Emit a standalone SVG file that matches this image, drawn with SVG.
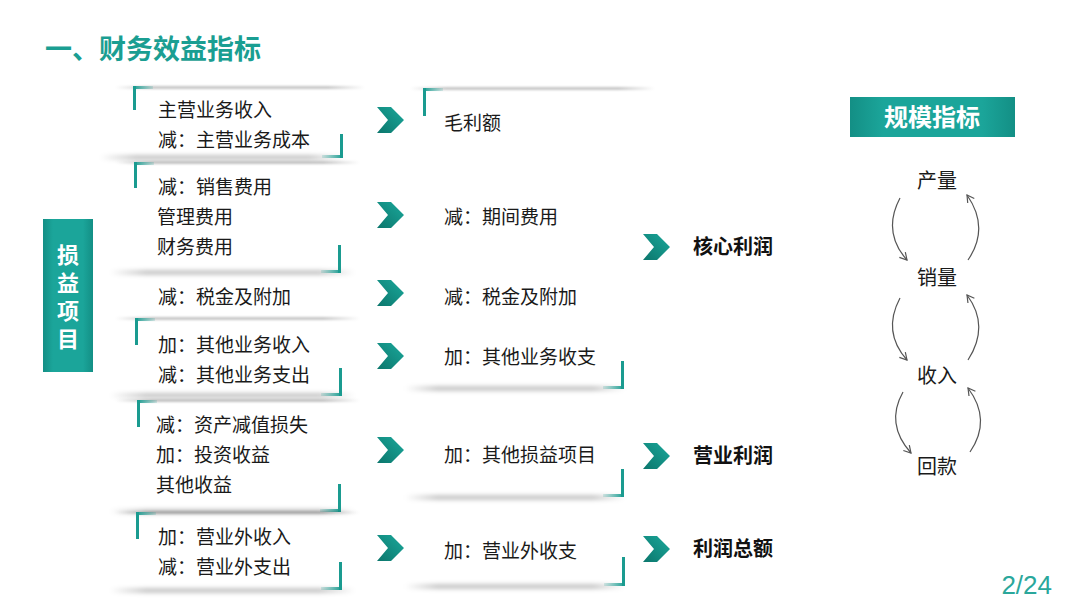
<svg xmlns="http://www.w3.org/2000/svg" width="1080" height="608" viewBox="0 0 1080 608">
<defs>
<style>
.t{font-family:"Liberation Sans","Noto Sans CJK SC",sans-serif;font-size:19px;fill:#1a1a1a}
.b{font-family:"Liberation Sans","Noto Sans CJK SC",sans-serif;font-size:20px;font-weight:bold;fill:#111}
.w{font-family:"Liberation Sans","Noto Sans CJK SC",sans-serif;font-weight:bold;fill:#fff}
.c{font-family:"Liberation Sans","Noto Sans CJK SC",sans-serif;font-size:20px;fill:#1a1a1a;text-anchor:middle}
.v{fill:#1a9b90}
.arc{fill:none;stroke:#555;stroke-width:1.2;marker-end:url(#ah)}
</style>
<linearGradient id="shd" x1="0" x2="1" y1="0" y2="0">
<stop offset="0" stop-color="#000" stop-opacity="0"/>
<stop offset="0.15" stop-color="#000" stop-opacity="0.22"/>
<stop offset="0.85" stop-color="#000" stop-opacity="0.22"/>
<stop offset="1" stop-color="#000" stop-opacity="0"/>
</linearGradient>
<linearGradient id="hl" x1="0" x2="1" y1="0" y2="0">
<stop offset="0" stop-color="#1a9b90"/>
<stop offset="1" stop-color="#1a9b90" stop-opacity="0.15"/>
</linearGradient>
<linearGradient id="hr" x1="0" x2="1" y1="0" y2="0">
<stop offset="0" stop-color="#1a9b90" stop-opacity="0.15"/>
<stop offset="1" stop-color="#1a9b90"/>
</linearGradient>
<linearGradient id="chev" x1="0" x2="1" y1="1" y2="0">
<stop offset="0" stop-color="#0c766c"/>
<stop offset="1" stop-color="#1aa89b"/>
</linearGradient>
<linearGradient id="lab" x1="0" x2="1" y1="0" y2="0">
<stop offset="0" stop-color="#138f85"/>
<stop offset="0.2" stop-color="#1ba59a"/>
<stop offset="0.8" stop-color="#1ba59a"/>
<stop offset="1" stop-color="#138f85"/>
</linearGradient>
<filter id="bl1" x="-10%" y="-200%" width="120%" height="500%"><feGaussianBlur stdDeviation="1.2"/></filter>
<filter id="bl2" x="-10%" y="-200%" width="120%" height="500%"><feGaussianBlur stdDeviation="2"/></filter>
<polygon id="cv" points="0,0 14,0 27,13 14,26 0,26 11,13" fill="url(#chev)"/>
<marker id="ah" markerWidth="10" markerHeight="10" refX="8" refY="5" orient="auto" markerUnits="userSpaceOnUse">
<path d="M1,1 L8,5 L1,9" fill="none" stroke="#555" stroke-width="1.2"/>
</marker>
</defs>
<rect width="1080" height="608" fill="#fff"/>

<g id="title"><text x="45" y="59" font-family="Liberation Sans,Noto Sans CJK SC,sans-serif" font-size="27" font-weight="bold" fill="#1a9e92">一、财务效益指标</text></g>

<g id="label-sunyi">
<rect x="43" y="219" width="50" height="153" fill="url(#lab)"/>
<text class="w" font-size="22" text-anchor="middle"><tspan x="68" y="263">损</tspan><tspan x="68" y="291">益</tspan><tspan x="68" y="319">项</tspan><tspan x="68" y="347">目</tspan></text>
</g>

<g id="box1">
<rect x="115" y="86" width="250" height="3" fill="url(#shd)" filter="url(#bl1)"/>
<rect x="100" y="155" width="245" height="5" fill="url(#shd)" filter="url(#bl2)"/>
<rect class="v" x="133" y="86" width="3" height="24"/><rect x="133" y="86" width="20" height="3" fill="url(#hl)"/>
<rect class="v" x="340" y="134" width="3" height="24"/><rect x="322" y="155" width="21" height="3" fill="url(#hr)"/>
<text class="t" x="158" y="117">主营业务收入</text>
<text class="t" x="158" y="147">减：主营业务成本</text>
</g>
<g id="box2">
<rect x="115" y="161" width="245" height="3" fill="url(#shd)" filter="url(#bl1)"/>
<rect x="110" y="270" width="245" height="5" fill="url(#shd)" filter="url(#bl2)"/>
<rect class="v" x="134" y="162" width="3" height="26"/><rect x="134" y="162" width="20" height="3" fill="url(#hl)"/>
<rect class="v" x="338" y="245" width="3" height="28"/><rect x="321" y="270" width="20" height="3" fill="url(#hr)"/>
<text class="t" x="158" y="194">减：销售费用</text>
<text class="t" x="157" y="224">管理费用</text>
<text class="t" x="157" y="254">财务费用</text>
</g>
<g id="box3">
<text class="t" x="158" y="304">减：税金及附加</text>
</g>
<g id="box4">
<rect x="115" y="317" width="245" height="3" fill="url(#shd)" filter="url(#bl1)"/>
<rect x="110" y="393" width="245" height="5" fill="url(#shd)" filter="url(#bl2)"/>
<rect class="v" x="135" y="318" width="3" height="27"/><rect x="135" y="318" width="20" height="3" fill="url(#hl)"/>
<rect class="v" x="339" y="368" width="3" height="28"/><rect x="321" y="393" width="21" height="3" fill="url(#hr)"/>
<text class="t" x="158" y="352">加：其他业务收入</text>
<text class="t" x="158" y="382">减：其他业务支出</text>
</g>
<g id="box5">
<rect x="115" y="399" width="245" height="3" fill="url(#shd)" filter="url(#bl1)"/>
<rect x="110" y="509" width="245" height="5" fill="url(#shd)" filter="url(#bl2)"/>
<rect class="v" x="137" y="400" width="3" height="27"/><rect x="137" y="400" width="20" height="3" fill="url(#hl)"/>
<rect class="v" x="338" y="484" width="3" height="28"/><rect x="320" y="509" width="21" height="3" fill="url(#hr)"/>
<text class="t" x="156" y="432">减：资产减值损失</text>
<text class="t" x="156" y="462">加：投资收益</text>
<text class="t" x="156" y="492">其他收益</text>
</g>
<g id="box6">
<rect x="115" y="511" width="245" height="3" fill="url(#shd)" filter="url(#bl1)"/>
<rect x="110" y="588" width="245" height="5" fill="url(#shd)" filter="url(#bl2)"/>
<rect class="v" x="136" y="512" width="3" height="27"/><rect x="136" y="512" width="20" height="3" fill="url(#hl)"/>
<rect class="v" x="339" y="562" width="3" height="28"/><rect x="321" y="587" width="21" height="3" fill="url(#hr)"/>
<text class="t" x="158" y="544">加：营业外收入</text>
<text class="t" x="158" y="574">减：营业外支出</text>
</g>

<g id="maolie">
<rect x="410" y="87" width="245" height="3" fill="url(#shd)" filter="url(#bl1)"/>
<rect class="v" x="423" y="88" width="3" height="28"/><rect x="423" y="88" width="20" height="3" fill="url(#hl)"/>
<text class="t" x="444" y="130">毛利额</text>
</g>
<g id="qijian"><text class="t" x="444" y="224">减：期间费用</text></g>
<g id="shuijin"><text class="t" x="444" y="304">减：税金及附加</text></g>
<g id="qitayewu">
<rect x="405" y="386" width="220" height="5" fill="url(#shd)" filter="url(#bl2)"/>
<rect class="v" x="621" y="361" width="3" height="28"/><rect x="603" y="386" width="21" height="3" fill="url(#hr)"/>
<text class="t" x="444" y="364">加：其他业务收支</text>
</g>
<g id="qitasunyi">
<rect x="405" y="495" width="220" height="5" fill="url(#shd)" filter="url(#bl2)"/>
<rect class="v" x="621" y="469" width="3" height="28"/><rect x="603" y="494" width="21" height="3" fill="url(#hr)"/>
<text class="t" x="444" y="462">加：其他损益项目</text>
</g>
<g id="yingyewai">
<rect x="405" y="584" width="220" height="5" fill="url(#shd)" filter="url(#bl2)"/>
<rect class="v" x="622" y="557" width="3" height="29"/><rect x="604" y="583" width="21" height="3" fill="url(#hr)"/>
<text class="t" x="444" y="558">加：营业外收支</text>
</g>

<g id="hexin"><text class="b" x="693" y="254">核心利润</text></g>
<g id="yingye"><text class="b" x="693" y="463">营业利润</text></g>
<g id="zonge"><text class="b" x="693" y="556">利润总额</text></g>

<g id="guimo">
<rect x="850" y="97" width="165" height="40" fill="url(#lab)"/>
<text class="w" font-size="24" x="932" y="126" text-anchor="middle">规模指标</text>
</g>
<g id="chanliang"><text class="c" x="937" y="188">产量</text></g>
<g id="xiaoliang"><text class="c" x="937" y="285">销量</text></g>
<g id="shouru"><text class="c" x="937" y="383">收入</text></g>
<g id="huikuan"><text class="c" x="937" y="474">回款</text></g>

<g id="connectors">
<use href="#cv" x="377" y="107"/>
<use href="#cv" x="377" y="202"/>
<use href="#cv" x="377" y="280"/>
<use href="#cv" x="377" y="343"/>
<use href="#cv" x="377" y="437"/>
<use href="#cv" x="377" y="535"/>
<use href="#cv" x="643" y="234"/>
<use href="#cv" x="643" y="443"/>
<use href="#cv" x="643" y="536"/>
<path class="arc" d="M900 198 Q882 232 907 260"/>
<path class="arc" d="M968 260 Q990 228 967 195"/>
<path class="arc" d="M900 298 Q882 332 907 360"/>
<path class="arc" d="M968 360 Q990 326 967 295"/>
<path class="arc" d="M903 392 Q885 424 911 453"/>
<path class="arc" d="M970 452 Q992 420 968 388"/>
</g>

<g id="page"><text x="1052" y="594" text-anchor="end" font-family="Liberation Sans,sans-serif" font-size="26" fill="#2aa79b">2/24</text></g>
</svg>
